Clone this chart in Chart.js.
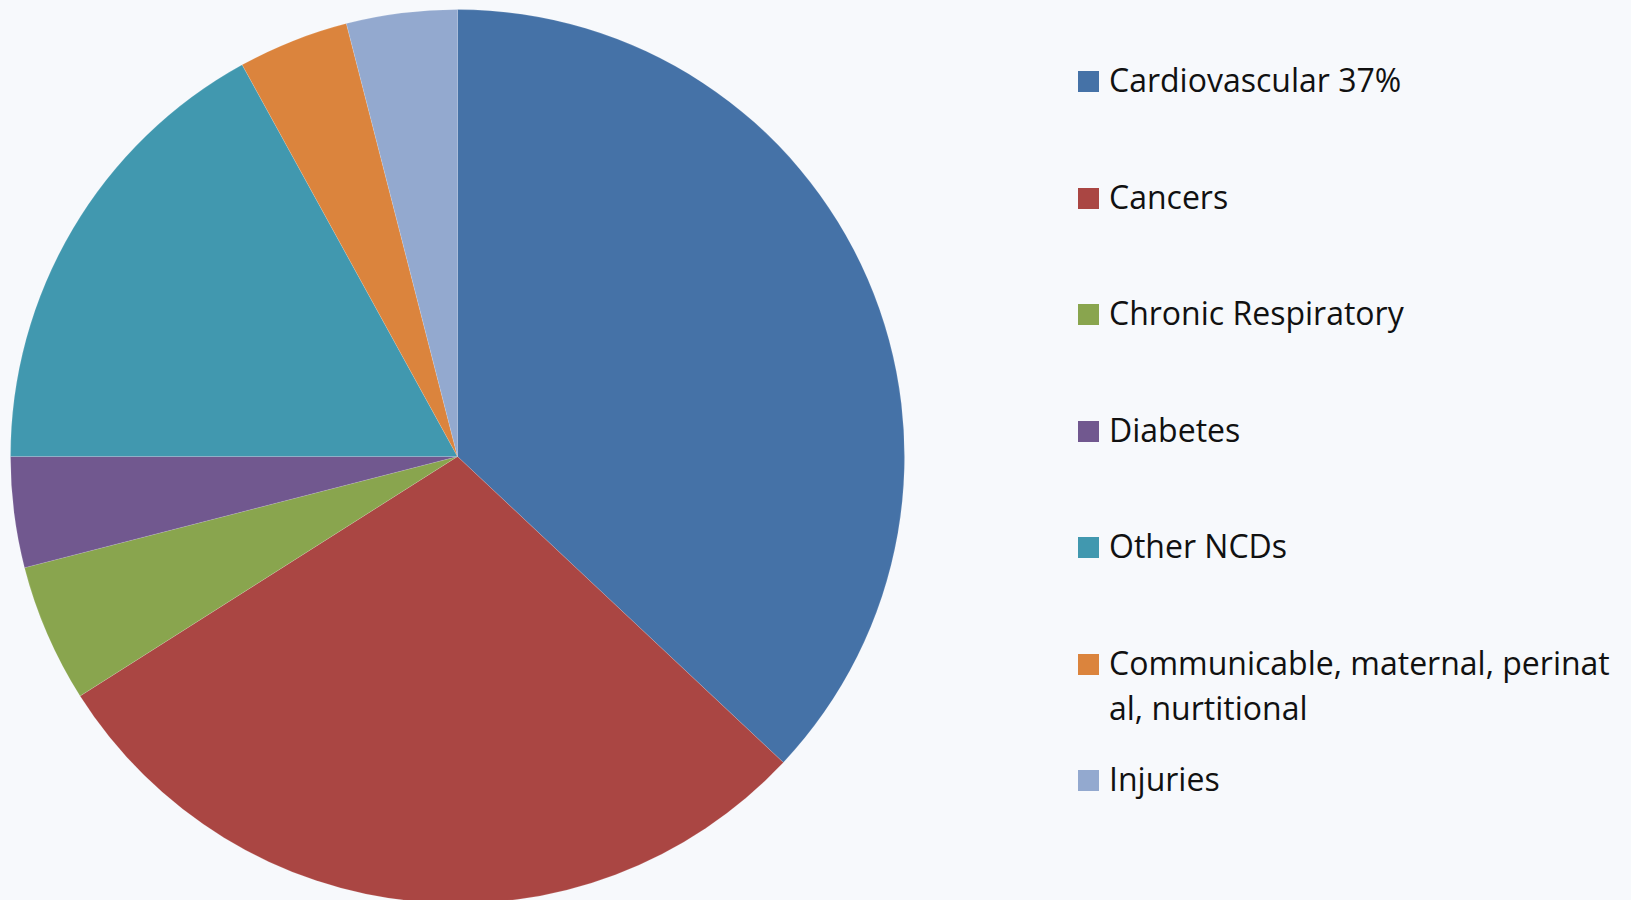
<!DOCTYPE html>
<html>
<head>
<meta charset="utf-8">
<script src="https://cdn.jsdelivr.net/npm/chart.js@4/dist/chart.umd.min.js"></script>
<style>
    html, body {
        margin: 0;
        padding: 0;
        width: 1631px;
        height: 900px;
        overflow: hidden;
        background: #F7F9FC;
        font-family: "Open Sans", sans-serif;
    }
    #pieWrap {
        position: absolute;
        left: 10px;
        top: 9px;
        width: 895px;
        height: 895px;
    }
    #legend {
        position: absolute;
        left: 1078px;
        top: 57px;
        display: grid;
        grid-auto-rows: 116.5px;
    }
    .legend-item {
        display: flex;
        align-items: flex-start;
        font-size: 32px;
        line-height: 45px;
        color: #111;
    }
    .legend-box {
        width: 21px;
        height: 21px;
        margin-top: 14px;
        margin-right: 10px;
        flex-shrink: 0;
    }
</style>
</head>
<body>
<div id="pieWrap"><canvas id="pieChart"></canvas></div>
<div id="legend"></div>

<script>
// Chart data
const categories = [
    'Cardiovascular 37%',
    'Cancers',
    'Chronic Respiratory',
    'Diabetes',
    'Other NCDs',
    ['Communicable, maternal, perinat', 'al, nurtitional'],
    'Injuries'
];
const shares = [37, 29, 5, 4, 17, 4, 4];
const sliceColors = ['#4572A7', '#AA4643', '#89A54E', '#71588F', '#4198AF', '#DB843D', '#93A9CF'];

// Build pie chart
const chart = new Chart(document.getElementById('pieChart'), {
    type: 'pie',
    data: {
        labels: categories,
        datasets: [{
            data: shares,
            backgroundColor: sliceColors,
            borderColor: 'rgba(255, 255, 255, 0.12)',
            borderWidth: 1
        }]
    },
    options: {
        responsive: true,
        maintainAspectRatio: false,
        animation: false,
        layout: { padding: 0 },
        plugins: {
            legend: { display: false },
            tooltip: { enabled: false }
        }
    }
});

// HTML legend from the chart's own labels
function buildLegend(chart) {
    const container = document.getElementById('legend');
    const items = chart.options.plugins.legend.labels.generateLabels(chart);
    container.innerHTML = items.map(item => {
        const text = Array.isArray(item.text) ? item.text.join('<br>') : item.text;
        return `
        <div class="legend-item">
            <div class="legend-box" style="background:${item.fillStyle}"></div>
            <div>${text}</div>
        </div>`;
    }).join('');
}

buildLegend(chart);
</script>
</body>
</html>
